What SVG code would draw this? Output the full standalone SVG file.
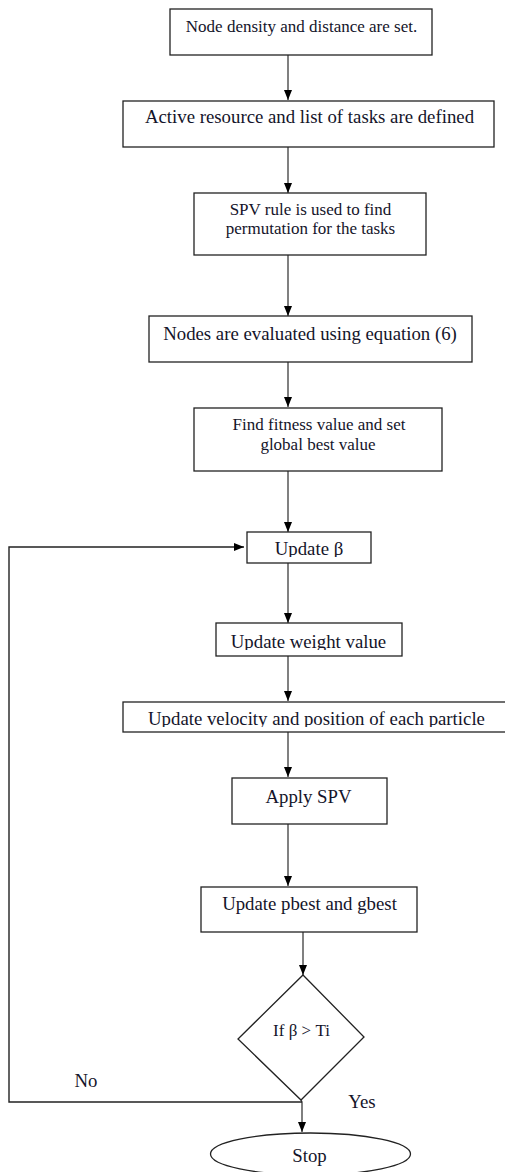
<svg xmlns="http://www.w3.org/2000/svg" width="505" height="1172" viewBox="0 0 505 1172">
<style>
.box{fill:#fff;stroke:#222;stroke-width:1.3}
.t{font-family:"Liberation Serif","Times New Roman",serif;fill:#14142a;text-anchor:middle}
.s{font-size:17px}
.l{font-size:18.8px}
.c{fill:none;stroke:#4a4a4a;stroke-width:1.4}
.k{fill:none;stroke:#222;stroke-width:1.4}
</style>
<defs>
<marker id="ah" markerUnits="userSpaceOnUse" markerWidth="11" markerHeight="9" refX="10" refY="4" orient="auto">
<path d="M0,0 L10,4 L0,8 z" fill="#000"/>
</marker>
<clipPath id="c6"><rect x="247" y="532" width="124" height="25"/></clipPath>
<clipPath id="c7"><rect x="216" y="623" width="186" height="27"/></clipPath>
<clipPath id="c8"><rect x="123" y="702" width="382" height="25"/></clipPath>
</defs>
<g id="connectors">
<line class="c" x1="288" y1="55" x2="288" y2="100" marker-end="url(#ah)"/>
<line class="c" x1="288" y1="147" x2="288" y2="193" marker-end="url(#ah)"/>
<line class="c" x1="288" y1="255" x2="288" y2="316" marker-end="url(#ah)"/>
<line class="c" x1="288" y1="362" x2="288" y2="407" marker-end="url(#ah)"/>
<line class="c" x1="288" y1="471" x2="288" y2="532" marker-end="url(#ah)"/>
<line class="c" x1="288" y1="563" x2="288" y2="623" marker-end="url(#ah)"/>
<line class="c" x1="288" y1="656" x2="288" y2="701" marker-end="url(#ah)"/>
<line class="c" x1="288" y1="732" x2="288" y2="777" marker-end="url(#ah)"/>
<line class="c" x1="288" y1="824" x2="288" y2="886" marker-end="url(#ah)"/>
<line class="c" x1="303" y1="932" x2="303" y2="975" marker-end="url(#ah)"/>
<polyline class="c" points="301,1100 302,1102 302,1132" marker-end="url(#ah)"/>
<polyline class="k" points="302,1102 9,1102 9,547 244,547" marker-end="url(#ah)"/>
<text class="t l" x="86" y="1087">No</text>
<text class="t l" x="362" y="1108">Yes</text>
</g>
<g id="n1"><rect class="box" x="170" y="9" width="262" height="46"/><text class="t s" x="301.5" y="32">Node density and distance are set.</text></g>
<g id="n2"><rect class="box" x="123" y="101" width="371" height="46"/><text class="t l" x="309.5" y="123">Active resource and list of tasks are defined</text></g>
<g id="n3"><rect class="box" x="194" y="193" width="232" height="62"/><text class="t s" x="310.5" y="215">SPV rule is used to find</text><text class="t s" x="310.5" y="234">permutation for the tasks</text></g>
<g id="n4"><rect class="box" x="149" y="316" width="323" height="46"/><text class="t l" x="310" y="340">Nodes are evaluated using equation (6)</text></g>
<g id="n5"><rect class="box" x="194" y="408" width="248" height="63"/><text class="t s" x="319" y="430">Find fitness value and set</text><text class="t s" x="318" y="450">global best value</text></g>
<g id="n6"><rect class="box" x="247" y="532" width="124" height="31"/><text class="t l" x="309" y="555" clip-path="url(#c6)">Update β</text></g>
<g id="n7"><rect class="box" x="216" y="623" width="186" height="33"/><text class="t l" x="308.5" y="648" clip-path="url(#c7)">Update weight value</text></g>
<g id="n8"><rect class="box" x="123" y="702" width="390" height="30"/><text class="t l" x="316.5" y="725" clip-path="url(#c8)">Update velocity and position of each particle</text></g>
<g id="n9"><rect class="box" x="232" y="778" width="155" height="46"/><text class="t l" x="308.5" y="803">Apply SPV</text></g>
<g id="n10"><rect class="box" x="201" y="887" width="216" height="45"/><text class="t l" x="309.5" y="910">Update pbest and gbest</text></g>
<g id="n11"><polygon class="box" points="303,975 364,1037 301,1100 238,1039"/><text class="t s" x="301.5" y="1036">If β &gt; Ti</text></g>
<g id="n12"><ellipse class="box" cx="310.5" cy="1154" rx="100" ry="21"/><text class="t l" x="309.5" y="1162">Stop</text></g>
</svg>
